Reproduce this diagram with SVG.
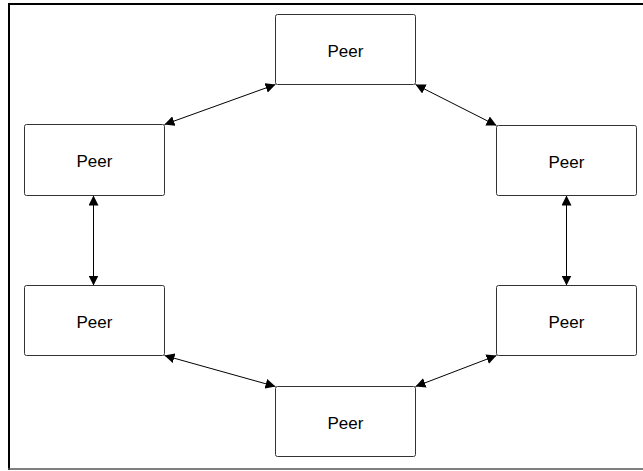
<svg xmlns="http://www.w3.org/2000/svg" width="643" height="471" viewBox="0 0 643 471">
<defs>
<marker id="ah" viewBox="0 0 10 10" refX="10" refY="5" markerWidth="10" markerHeight="10" markerUnits="userSpaceOnUse" orient="auto-start-reverse">
<path d="M0,0 L10,5 L0,10 z" fill="#000"/>
</marker>
<style>
.node rect{fill:#fff;stroke:#333;stroke-width:1}
.node text{font-family:"Liberation Sans",Arial,sans-serif;font-size:17px;fill:#000;text-anchor:middle}
.conn line{stroke:#000;stroke-width:1;marker-start:url(#ah);marker-end:url(#ah)}
</style>
</defs>
<rect x="0" y="0" width="643" height="471" fill="#fff"/>
<g id="frame">
<line x1="9" y1="3" x2="9" y2="470" stroke="#000" stroke-width="2"/>
<line x1="8" y1="4" x2="643" y2="4" stroke="#000" stroke-width="2"/>
<line x1="8" y1="469" x2="643" y2="469" stroke="#555" stroke-width="1.5"/>
</g>
<g id="connectors" class="conn">
<line x1="164.5" y1="124.5" x2="275.5" y2="84.5"/>
<line x1="415.5" y1="84.5" x2="496.5" y2="125.5"/>
<line x1="93.5" y1="195.5" x2="93.5" y2="285.5"/>
<line x1="566.5" y1="195.5" x2="566.5" y2="285.5"/>
<line x1="164.5" y1="355.5" x2="275.5" y2="386.5"/>
<line x1="415.5" y1="386.5" x2="496.5" y2="355.5"/>
</g>
<g id="peer-top" class="node"><rect x="275.5" y="14.5" width="140" height="70" rx="2"/><text x="345.5" y="56.5">Peer</text></g>
<g id="peer-left-top" class="node"><rect x="24.5" y="124.5" width="140" height="71" rx="2"/><text x="94.5" y="167">Peer</text></g>
<g id="peer-right-top" class="node"><rect x="496.5" y="125.5" width="140" height="70" rx="2"/><text x="566.5" y="167.5">Peer</text></g>
<g id="peer-left-bottom" class="node"><rect x="24.5" y="285.5" width="140" height="70" rx="2"/><text x="94.5" y="327.5">Peer</text></g>
<g id="peer-right-bottom" class="node"><rect x="496.5" y="285.5" width="140" height="70" rx="2"/><text x="566.5" y="327.5">Peer</text></g>
<g id="peer-bottom" class="node"><rect x="275.5" y="386.5" width="140" height="70" rx="2"/><text x="345.5" y="428.5">Peer</text></g>
</svg>
